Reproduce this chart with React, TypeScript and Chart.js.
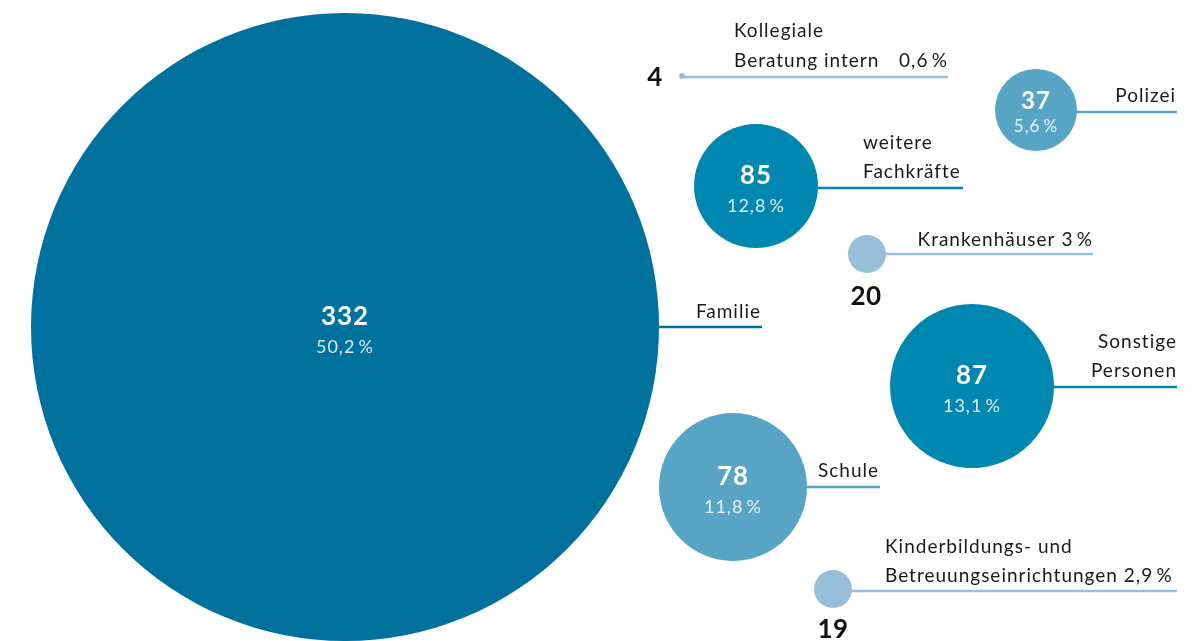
import React, { useEffect, useRef } from "react";
import { Chart, registerables } from "chart.js";

Chart.register(...registerables);

// ---- data ----
const categories = [
  "Familie",
  "weitere Fachkräfte",
  "Polizei",
  "Krankenhäuser",
  "Sonstige Personen",
  "Schule",
  "Kinderbildungs- und Betreuungseinrichtungen",
  "Kollegiale Beratung intern",
];
const counts = [332, 85, 37, 20, 87, 78, 19, 4];
const percents = [50.2, 12.8, 5.6, 3, 13.1, 11.8, 2.9, 0.6];

// ---- layout (bubble placement in data space of a 1199x641 canvas) ----
const posX = [345, 756, 1036, 867, 972, 733, 833, 682];
const posY = [327, 186, 110, 254, 386, 487, 589, 76];
const radii = [314, 62, 41, 19, 82, 74, 19, 3];
const colors = ["#00709C", "#0087AF", "#58A4C5", "#97BFD8", "#0087AF", "#58A4C5", "#97BFD8", "#97BFD8"];
const lineY = [327, 188, 112, 254, 387, 487, 591, 77];
const lineEnd = [762, 963, 1177, 1093, 1177, 880, 1177, 948];
// label lines: [text, x, y, align]
const labelLines: [string, number, number, CanvasTextAlign][][] = [
  [["Familie", 761, 312, "right"]],
  [["weitere", 863, 143, "left"], ["Fachkräfte", 863, 172, "left"]],
  [["Polizei", 1176, 96, "right"]],
  [["Krankenhäuser 3\u2009%", 1093, 240, "right"]],
  [["Sonstige", 1177, 342, "right"], ["Personen", 1177, 371, "right"]],
  [["Schule", 818, 471, "left"]],
  [["Kinderbildungs- und", 885, 547, "left"], ["Betreuungseinrichtungen 2,9\u2009%", 885, 576, "left"]],
  [["Kollegiale", 734, 31, "left"], ["Beratung intern", 734, 61, "left"], ["0,6\u2009%", 948, 61, "right"]],
];
// inside labels (value + percent) for large bubbles; outside bold value for small ones
const insideIdx = [0, 1, 2, 4, 5];
const outsideNum: Record<number, [number, number]> = { 3: [866, 297], 6: [833, 630], 7: [655, 78] };

const FONT = "Lato, 'Noto Sans', sans-serif";

function fmtPct(p: number) {
  const s = Number.isInteger(p) ? String(p) : p.toFixed(1).replace(".", ",");
  return s + "\u2009%";
}

const labelPlugin = {
  id: "bubbleLabels",
  afterDatasetsDraw(chart: any) {
    const ctx = chart.ctx as any;
    const meta = chart.getDatasetMeta(0);
    const xs = chart.scales.x;
    const ys = chart.scales.y;
    ctx.save();
    meta.data.forEach((el: any, i: number) => {
      const cx = el.x;
      const cy = el.y;
      const r = radii[i];
      // leader line
      ctx.strokeStyle = colors[i];
      ctx.lineWidth = 2.5;
      ctx.beginPath();
      const ly = ys.getPixelForValue(lineY[i]);
      ctx.moveTo(cx + Math.sqrt(Math.max(r * r - (ly - cy) * (ly - cy), 0)) - 1, ly);
      ctx.lineTo(xs.getPixelForValue(lineEnd[i]), ly);
      ctx.stroke();
      // category label
      ctx.fillStyle = "#1a1a1a";
      ctx.font = `19px ${FONT}`;
      ctx.letterSpacing = "1px";
      ctx.textBaseline = "middle";
      labelLines[i].forEach(([t, x, y, a]) => {
        ctx.textAlign = a;
        ctx.fillText(t, xs.getPixelForValue(x), ys.getPixelForValue(y));
      });
      ctx.textAlign = "center";
      if (insideIdx.includes(i)) {
        const big = r > 50;
        ctx.fillStyle = "#ffffff";
        ctx.letterSpacing = "1px";
        ctx.font = `bold ${big ? 26 : 24}px ${FONT}`;
        ctx.fillText(String(counts[i]), cx, cy + (big ? -10 : -9));
        ctx.fillStyle = "rgba(255,255,255,0.85)";
        ctx.letterSpacing = "1px";
        ctx.font = `${big ? 18 : 17}px ${FONT}`;
        ctx.fillText(fmtPct(percents[i]), cx, cy + (big ? 20 : 17));
      } else if (outsideNum[i]) {
        const [nx, ny] = outsideNum[i];
        ctx.fillStyle = "#111111";
        ctx.letterSpacing = "0.5px";
        ctx.font = `bold 26px ${FONT}`;
        ctx.fillText(String(counts[i]), xs.getPixelForValue(nx), ys.getPixelForValue(ny));
      }
    });
    ctx.restore();
  },
};

export default function App() {
  const ref = useRef<HTMLCanvasElement>(null);
  useEffect(() => {
    if (!ref.current) return;
    const chart = new Chart(ref.current, {
      type: "bubble",
      data: {
        labels: categories,
        datasets: [
          {
            label: "Anzahl",
            data: counts.map((c, i) => ({ x: posX[i], y: posY[i], r: radii[i], v: c })) as any,
            backgroundColor: colors,
            borderWidth: 0,
            hoverBorderWidth: 0,
            clip: false as any,
          },
        ],
      },
      options: {
        responsive: false,
        animation: false,
        maintainAspectRatio: false,
        layout: { padding: 0, autoPadding: false } as any,
        plugins: { legend: { display: false }, tooltip: { enabled: false } },
        scales: {
          x: { type: "linear", min: 0, max: 1199, display: false },
          y: { type: "linear", min: 0, max: 641, reverse: true, display: false },
        },
      },
      plugins: [labelPlugin],
    });
    return () => chart.destroy();
  }, []);
  return (
    <div style={{ position: "fixed", left: 0, top: 0, width: 1199, height: 641, background: "#fff" }}>
      <canvas ref={ref} width={1199} height={641} style={{ display: "block", width: 1199, height: 641 }} />
    </div>
  );
}
